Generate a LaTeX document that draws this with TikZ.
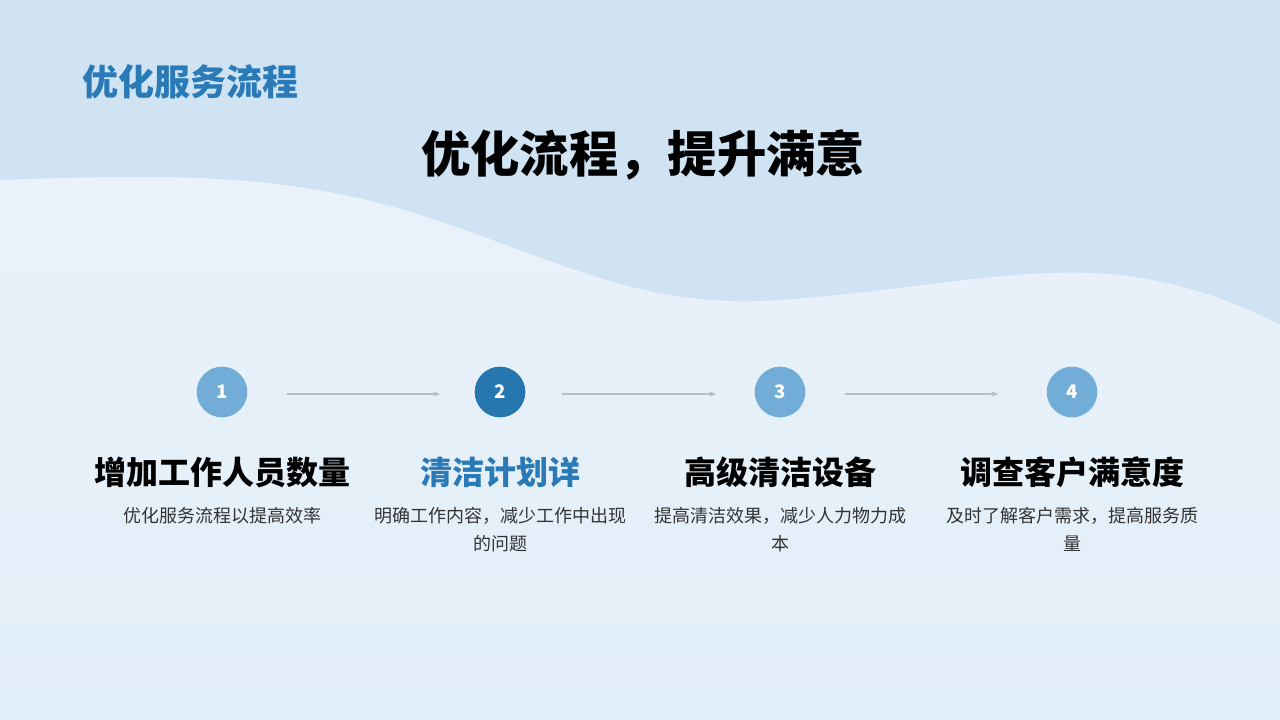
\documentclass[tikz,border=0pt]{standalone}
\usepackage{fontspec}
\setmainfont{Noto Sans CJK SC}
\usetikzlibrary{arrows.meta}
\definecolor{bgtop}{HTML}{CFE3F3}
\definecolor{bgw1}{HTML}{EAF2FA}
\definecolor{bgw2}{HTML}{E2EEF8}
\definecolor{lightc}{HTML}{72ADD8}
\definecolor{darkc}{HTML}{2676B0}
\definecolor{titlec}{HTML}{2A7AB8}
\definecolor{linec}{HTML}{B4BEC8}
\tikzset{
 num/.style={circle,minimum size=38pt,inner sep=0,text=white,font=\fontsize{14}{16}\selectfont\bfseries},
 stitle/.style={font=\fontsize{24}{28}\selectfont\bfseries,anchor=center},
 sdesc/.style={font=\fontsize{13.5}{21}\selectfont,align=center,anchor=north,text=black!80},
 conn/.style={draw=linec,line width=1.2,-{Stealth[length=5,width=4]}}
}
\begin{document}
\begin{tikzpicture}[x=0.75pt,y=-0.75pt]
\useasboundingbox (0,0) rectangle (1280,720);
\fill[bgtop] (0,0) rectangle (1280,720);
\shade[top color=bgw1,bottom color=bgw2] (0,180) .. controls (150,175) and (280,170) .. (420,215)
 .. controls (560,260) and (640,310) .. (780,300) .. controls (920,290) and (1020,265) .. (1120,275)
 .. controls (1200,285) and (1250,310) .. (1280,325) -- (1280,720) -- (0,720) -- cycle;
\node[anchor=west,text=titlec,font=\fontsize{27}{30}\selectfont\bfseries] (hdr) at (78,82) {优化服务流程};
\node[font=\fontsize{37}{44}\selectfont\bfseries] (main) at (643,155) {优化流程，提升满意};
\node[num,fill=lightc] (c1) at (222,392) {1};
\node[num,fill=darkc] (c2) at (500,392) {2};
\node[num,fill=lightc] (c3) at (780,392) {3};
\node[num,fill=lightc] (c4) at (1072,392) {4};
\coordinate (a1) at (287,394); \coordinate (b1) at (440,394);
\coordinate (a2) at (562,394); \coordinate (b2) at (716,394);
\coordinate (a3) at (845,394); \coordinate (b3) at (998,394);
\draw[conn] (a1) -- (b1);
\draw[conn] (a2) -- (b2);
\draw[conn] (a3) -- (b3);
\node[stitle] (t1) at (222,472) {增加工作人员数量};
\node[stitle,text=titlec] (t2) at (500,472) {清洁计划详};
\node[stitle] (t3) at (780,472) {高级清洁设备};
\node[stitle] (t4) at (1072,472) {调查客户满意度};
\node[sdesc] (d1) at (222,503) {优化服务流程以提高效率};
\node[sdesc] (d2) at (500,503) {明确工作内容，减少工作中出现\\的问题};
\node[sdesc] (d3) at (780,503) {提高清洁效果，减少人力物力成\\本};
\node[sdesc] (d4) at (1072,503) {及时了解客户需求，提高服务质\\量};
\end{tikzpicture}
\end{document}
